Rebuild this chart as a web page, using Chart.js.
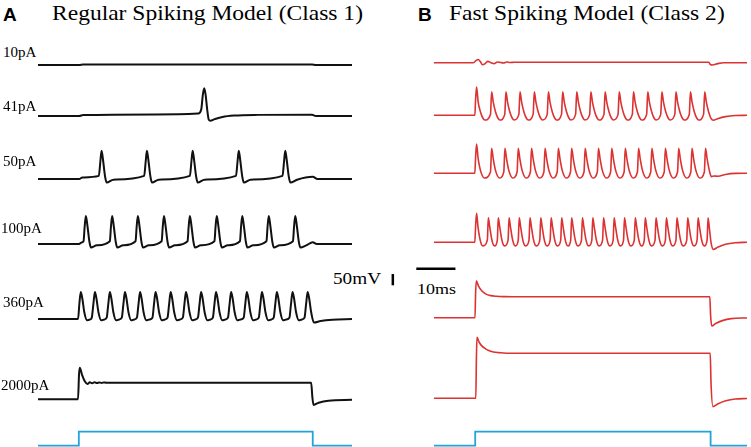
<!DOCTYPE html>
<html>
<head>
<meta charset="utf-8">
<script src="https://cdn.jsdelivr.net/npm/chart.js@4.4.1/dist/chart.umd.min.js"></script>
<style>
html, body { margin: 0; padding: 0; background: #fff; }
#fig { position: relative; width: 751px; height: 447px; overflow: hidden; }
#fig canvas { position: absolute; }
.t { position: absolute; white-space: nowrap; line-height: 1; color: #000; transform-origin: 0 0; }
.serif { font-family: 'Liberation Serif', 'Times New Roman', serif; }
.tag { font-family: 'Liberation Sans', Arial, sans-serif; font-weight: bold; font-size: 19px; }
</style>
</head>
<body>
<div id="fig">
  <div class="t tag" style="left:3px;top:4.6px;">A</div>
  <div class="t serif" style="left:52px;top:3px;font-size:21px;transform:scaleX(1.12);">Regular Spiking Model (Class 1)</div>
  <div class="t tag" style="left:418px;top:4.6px;">B</div>
  <div class="t serif" style="left:449px;top:3px;font-size:21px;transform:scaleX(1.12);">Fast Spiking Model (Class 2)</div>
  <div class="t serif" style="left:333px;top:271px;font-size:16px;transform:scaleX(1.2);">50mV</div>
  <div class="t serif" style="left:417px;top:281.5px;font-size:15px;transform:scaleX(1.2);">10ms</div>
  <canvas id="rs" width="314" height="407" style="left:38px;top:40px;"></canvas>
  <canvas id="fs" width="362" height="407" style="left:385px;top:40px;"></canvas>
</div>
<script>
// current steps, one per row
var rowLabels = ['10pA', '41pA', '50pA', '100pA', '360pA', '2000pA'];

// Regular spiking model (class 1): [time ms, membrane potential mV]
var rs10 = [[0,-70],[10.5,-70],[11.5,-68],[69.8,-68],[70.8,-70],[80,-70]];
var rs41 = [[0,-70],[10.5,-70],[11.5,-66],[30,-63],[40.8,-59],[41.6,-40],[42.0,25],[42.35,53],[42.7,25],[43.1,-40],
  [43.5,-86],[43.9,-91],[45.0,-84],[47,-74],[50,-68],[56,-65],[69.8,-64],[70.8,-70],[80,-70]];
var rs50 = [[0,-70],[10.5,-70],[11.3,-63],[15.5,-56],
  [15.9,10],[16.2,56],[16.6,10],[17.1,-60],[17.5,-86],[19.2,-73],[27.05,-56],
  [27.45,10],[27.75,56],[28.15,10],[28.65,-60],[29.05,-86],[30.75,-73],[38.7,-56],
  [39.1,10],[39.4,56],[39.8,10],[40.3,-60],[40.7,-86],[42.4,-73],[50.45,-56],
  [50.85,10],[51.15,56],[51.55,10],[52.05,-60],[52.45,-86],[54.15,-73],[62.3,-56],
  [62.7,10],[63.0,56],[63.4,10],[63.9,-60],[64.3,-86],[66,-73],[70,-60],[71.2,-70],[80,-70]];
var rs100 = [[0,-70],[10.5,-70],[11.0,-64],[11.6,-58],
  [11.9,10],[12.2,54],[12.6,10],[13.1,-60],[13.5,-86],[15,-76],[18.3,-58],
  [18.6,10],[18.9,54],[19.3,10],[19.8,-60],[20.2,-86],[21.7,-76],[24.85,-58],
  [25.15,10],[25.45,54],[25.85,10],[26.35,-60],[26.75,-86],[28.25,-76],[31.5,-58],
  [31.8,10],[32.1,54],[32.5,10],[33,-60],[33.4,-86],[34.9,-76],[38.1,-58],
  [38.4,10],[38.7,54],[39.1,10],[39.6,-60],[40,-86],[41.5,-76],[44.95,-58],
  [45.25,10],[45.55,54],[45.95,10],[46.45,-60],[46.85,-86],[48.35,-76],[51.45,-58],
  [51.75,10],[52.05,54],[52.45,10],[52.95,-60],[53.35,-86],[54.85,-76],[58.2,-58],
  [58.5,10],[58.8,54],[59.2,10],[59.7,-60],[60.1,-86],[61.6,-76],[64.95,-58],
  [65.25,10],[65.55,54],[65.95,10],[66.45,-60],[66.85,-86],[68.35,-76],[70,-62],[71,-70],[80,-70]];
var rs360 = [[0,-70],[10.2,-70],
  [10.55,0],[10.9,50],[11.3,20],[11.8,-40],[12.5,-76],[13.3,-72],
  [13.7,-64],[14.1,-5],[14.5,50],[14.9,20],[15.4,-40],[16.1,-76],[16.9,-72],
  [17.5,-64],[17.9,-5],[18.3,50],[18.7,20],[19.2,-40],[19.9,-76],[20.7,-72],
  [21.35,-64],[21.75,-5],[22.15,50],[22.55,20],[23.05,-40],[23.75,-76],[24.55,-72],
  [25.2,-64],[25.6,-5],[26.0,50],[26.4,20],[26.9,-40],[27.6,-76],[28.4,-72],
  [29.15,-64],[29.55,-5],[29.95,50],[30.35,20],[30.85,-40],[31.55,-76],[32.35,-72],
  [33.0,-64],[33.4,-5],[33.8,50],[34.2,20],[34.7,-40],[35.4,-76],[36.2,-72],
  [36.9,-64],[37.3,-5],[37.7,50],[38.1,20],[38.6,-40],[39.3,-76],[40.1,-72],
  [40.75,-64],[41.15,-5],[41.55,50],[41.95,20],[42.45,-40],[43.15,-76],[43.95,-72],
  [44.55,-64],[44.95,-5],[45.35,50],[45.75,20],[46.25,-40],[46.95,-76],[47.75,-72],
  [48.4,-64],[48.8,-5],[49.2,50],[49.6,20],[50.1,-40],[50.8,-76],[51.6,-72],
  [52.4,-64],[52.8,-5],[53.2,50],[53.6,20],[54.1,-40],[54.8,-76],[55.6,-72],
  [56.25,-64],[56.65,-5],[57.05,50],[57.45,20],[57.95,-40],[58.65,-76],[59.45,-72],
  [60.05,-64],[60.45,-5],[60.85,50],[61.25,20],[61.75,-40],[62.45,-76],[63.25,-72],
  [64.05,-64],[64.45,-5],[64.85,50],[65.25,20],[65.75,-40],[66.45,-76],[67.25,-72],
  [67.9,-64],[68.3,-5],[68.7,50],[69.1,20],[69.6,-40],[70.3,-86],[72,-79],[75,-73],[80,-70]];
var rs2000 = [[0,-70],[10.2,-70],[10.45,40],[10.65,70],[11.2,40],[12,8],[12.6,-2],[13.2,6],[13.8,1],[14.4,6],
  [15,2],[15.6,5],[16.2,3],[16.8,5],[17.4,3.5],[18,4],[69.6,4],[69.9,-60],[70.2,-95],[71.5,-85],[74,-76],[80,-72]];
var rsStim = [[0,0],[10.4,0],[10.4,1],[70,1],[70,0],[80,0]];

// Fast spiking model (class 2)
var fs10 = [[0,-70],[10.1,-70],[10.8,-60],[11.3,-56],[11.9,-66],[12.4,-79],[13.1,-74],[13.8,-64],[14.6,-70],[15.4,-74],
  [16.2,-67],[17.0,-69],[17.8,-71],[18.6,-67],[19.5,-69],[20.5,-68],[70.2,-68],[70.6,-77],[71.1,-80],[72.5,-74],[74,-70],[80,-70]];
var fs41 = [[0,-70],[10.45,-70],[10.65,0],[10.9,56],
  [11.3,-10],[11.9,-55],[12.5,-82],[13.0,-91],[14.45,-66],
  [14.75,34],[15.15,-10],[15.75,-55],[16.35,-82],[16.85,-91],[18.1,-66],
  [18.4,34],[18.8,-10],[19.4,-55],[20.0,-82],[20.5,-91],[21.7,-66],
  [22.0,34],[22.4,-10],[23.0,-55],[23.6,-82],[24.1,-91],[25.35,-66],
  [25.65,34],[26.05,-10],[26.65,-55],[27.25,-82],[27.75,-91],[28.95,-66],
  [29.25,34],[29.65,-10],[30.25,-55],[30.85,-82],[31.35,-91],[32.6,-66],
  [32.9,34],[33.3,-10],[33.9,-55],[34.5,-82],[35.0,-91],[36.2,-66],
  [36.5,34],[36.9,-10],[37.5,-55],[38.1,-82],[38.6,-91],[39.8,-66],
  [40.1,34],[40.5,-10],[41.1,-55],[41.7,-82],[42.2,-91],[43.45,-66],
  [43.75,34],[44.15,-10],[44.75,-55],[45.35,-82],[45.85,-91],[47.05,-66],
  [47.35,34],[47.75,-10],[48.35,-55],[48.95,-82],[49.45,-91],[50.7,-66],
  [51.0,34],[51.4,-10],[52.0,-55],[52.6,-82],[53.1,-91],[54.35,-66],
  [54.65,34],[55.05,-10],[55.65,-55],[56.25,-82],[56.75,-91],[57.95,-66],
  [58.25,34],[58.65,-10],[59.25,-55],[59.85,-82],[60.35,-91],[61.55,-66],
  [61.85,34],[62.25,-10],[62.85,-55],[63.45,-82],[63.95,-91],[65.25,-66],
  [65.55,34],[65.95,-10],[66.55,-55],[67.15,-82],[67.65,-91],[68.9,-66],
  [69.2,34],[69.6,-10],[70.2,-55],[70.8,-84],[71.4,-92],[72.5,-85],[74.5,-76],[77,-71],[80,-70]];
var fs50 = [[0,-70],[10.45,-70],[10.65,0],[10.9,60],
  [11.3,-5],[11.85,-55],[12.4,-82],[12.85,-91],[14.45,-64],
  [14.75,41],[15.15,-5],[15.7,-55],[16.25,-82],[16.7,-91],[17.85,-64],
  [18.15,41],[18.55,-5],[19.1,-55],[19.65,-82],[20.1,-91],[21.25,-64],
  [21.55,41],[21.95,-5],[22.5,-55],[23.05,-82],[23.5,-91],[24.65,-64],
  [24.95,41],[25.35,-5],[25.9,-55],[26.45,-82],[26.9,-91],[28.1,-64],
  [28.4,41],[28.8,-5],[29.35,-55],[29.9,-82],[30.35,-91],[31.5,-64],
  [31.8,41],[32.2,-5],[32.75,-55],[33.3,-82],[33.75,-91],[34.9,-64],
  [35.2,41],[35.6,-5],[36.15,-55],[36.7,-82],[37.15,-91],[38.35,-64],
  [38.65,41],[39.05,-5],[39.6,-55],[40.15,-82],[40.6,-91],[41.75,-64],
  [42.05,41],[42.45,-5],[43.0,-55],[43.55,-82],[44.0,-91],[45.15,-64],
  [45.45,41],[45.85,-5],[46.4,-55],[46.95,-82],[47.4,-91],[48.6,-64],
  [48.9,41],[49.3,-5],[49.85,-55],[50.4,-82],[50.85,-91],[52.0,-64],
  [52.3,41],[52.7,-5],[53.25,-55],[53.8,-82],[54.25,-91],[55.4,-64],
  [55.7,41],[56.1,-5],[56.65,-55],[57.2,-82],[57.65,-91],[58.85,-64],
  [59.15,41],[59.55,-5],[60.1,-55],[60.65,-82],[61.1,-91],[62.25,-64],
  [62.55,41],[62.95,-5],[63.5,-55],[64.05,-82],[64.5,-91],[65.65,-64],
  [65.95,41],[66.35,-5],[66.9,-55],[67.45,-82],[67.9,-91],[69.1,-64],
  [69.4,41],[69.8,-5],[70.35,-55],[70.9,-85],[71.6,-82],[72.6,-83],[74.5,-75],[77,-70.5],[80,-70]];
var fs100 = [[0,-70],[10.45,-70],[10.65,0],[10.9,59],
  [11.25,0],[11.7,-50],[12.15,-80],[12.55,-86],[13.65,-60],
  [13.9,39],[14.25,0],[14.7,-50],[15.15,-80],[15.55,-86],[16.2,-60],
  [16.45,39],[16.8,0],[17.25,-50],[17.7,-80],[18.1,-86],[18.95,-60],
  [19.2,39],[19.55,0],[20.0,-50],[20.45,-80],[20.85,-86],[21.55,-60],
  [21.8,39],[22.15,0],[22.6,-50],[23.05,-80],[23.45,-86],[24.3,-60],
  [24.55,39],[24.9,0],[25.35,-50],[25.8,-80],[26.2,-86],[27.05,-60],
  [27.3,39],[27.65,0],[28.1,-50],[28.55,-80],[28.95,-86],[29.7,-60],
  [29.95,39],[30.3,0],[30.75,-50],[31.2,-80],[31.6,-86],[32.4,-60],
  [32.65,39],[33.0,0],[33.45,-50],[33.9,-80],[34.3,-86],[34.95,-60],
  [35.2,39],[35.55,0],[36.0,-50],[36.45,-80],[36.85,-86],[37.7,-60],
  [37.95,39],[38.3,0],[38.75,-50],[39.2,-80],[39.6,-86],[40.35,-60],
  [40.6,39],[40.95,0],[41.4,-50],[41.85,-80],[42.25,-86],[43.1,-60],
  [43.35,39],[43.7,0],[44.15,-50],[44.6,-80],[45.0,-86],[45.8,-60],
  [46.05,39],[46.4,0],[46.85,-50],[47.3,-80],[47.7,-86],[48.45,-60],
  [48.7,39],[49.05,0],[49.5,-50],[49.95,-80],[50.35,-86],[51.2,-60],
  [51.45,39],[51.8,0],[52.25,-50],[52.7,-80],[53.1,-86],[53.75,-60],
  [54.0,39],[54.35,0],[54.8,-50],[55.25,-80],[55.65,-86],[56.5,-60],
  [56.75,39],[57.1,0],[57.55,-50],[58.0,-80],[58.4,-86],[59.15,-60],
  [59.4,39],[59.75,0],[60.2,-50],[60.65,-80],[61.05,-86],[61.85,-60],
  [62.1,39],[62.45,0],[62.9,-50],[63.35,-80],[63.75,-86],[64.6,-60],
  [64.85,39],[65.2,0],[65.65,-50],[66.1,-80],[66.5,-86],[67.25,-60],
  [67.5,39],[67.85,0],[68.3,-50],[68.75,-80],[69.15,-86],[69.8,-60],
  [70.05,39],[70.4,-10],[70.85,-75],[71.4,-102],[72.5,-92],[74.5,-79],[77,-72],[80,-70]];
var fs360 = [[0,-70],[10.5,-70],[10.65,40],[10.85,94],[11.4,70],[12.2,50],[13.2,36],[14.5,28],[16,25],[18,23.5],[20,23],
  [70.5,23],[70.7,-60],[71,-107],[72,-96],[73.7,-83],[76,-74],[80,-71]];
var fs2000 = [[0,-70],[10.7,-70],[10.85,100],[11.0,201],[11.6,178],[12.3,162],[13.2,150],[14,142],[15.2,136],[16.5,133],
  [18.5,130],[70.6,130],[70.8,0],[71.3,-107],[72.5,-95],[74.6,-81],[77,-73],[80,-71]];
var fsStim = [[0,0],[10.55,0],[10.55,1],[70.7,1],[70.7,0],[80,0]];

// scale bars: 50 mV and 10 ms (drawn on the 360pA row of panel B)
var barMv = [[-10.5,74],[-10.5,124]];
var barMs = [[-4.5,148],[5.5,148]];

// ---- layout ----
var REST = -70;            // mV at each row's baseline
var PX_PER_MV = 0.225;
var STIM_PX = 14;          // height of the current step
var bandEdges = [40, 90, 145, 210, 278, 352, 420, 447];
var rsBase = [65, 116, 179, 244, 319, 399.3, 445.7];
var fsBase = [62.7, 115.3, 173.3, 242.3, 317.7, 398.3, 445.7];
var labelBase = [57.5, 111.7, 166.7, 233.3, 307.7, 391];
var labelLeft = [3, 3, 3, 1, 3, 1];
var LABEL_PX = 15;

var BLACK = '#111111', RED = '#dc3232', BLUE = '#21a4dc';

function rowScales(base) {
    var scales = {};
    for (var k = 0; k < 7; k++) {
        var top = bandEdges[k], bot = bandEdges[k + 1];
        var unit = k < 6 ? PX_PER_MV : STIM_PX;
        var zero = k < 6 ? REST : 0;
        scales['r' + k] = {
            type: 'linear', display: false, position: 'right',
            stack: 'rows', stackWeight: bot - top,
            min: zero - (bot - base[k]) / unit,
            max: zero + (base[k] - top) / unit
        };
    }
    return scales;
}

function trace(points, row, color, width, smooth) {
    return {
        data: points.map(function (p) { return { x: p[0], y: p[1] }; }),
        yAxisID: 'r' + row,
        borderColor: color,
        borderWidth: width,
        pointRadius: 0,
        fill: false,
        clip: false,
        cubicInterpolationMode: smooth ? 'monotone' : 'default',
        tension: 0
    };
}

function panel(id, xMin, datasets, base) {
    var scales = rowScales(base);
    scales.x = { type: 'linear', display: false, min: xMin, max: 80 };
    return new Chart(document.getElementById(id), {
        type: 'line',
        data: { datasets: datasets },
        options: {
            responsive: false,
            animation: false,
            events: [],
            layout: { autoPadding: false, padding: 0 },
            plugins: { legend: { display: false }, tooltip: { enabled: false } },
            scales: scales
        }
    });
}

var rsData = [rs10, rs41, rs50, rs100, rs360, rs2000];
var fsData = [fs10, fs41, fs50, fs100, fs360, fs2000];

panel('rs', 0, rsData.map(function (d, i) { return trace(d, i, BLACK, 2, true); })
    .concat([trace(rsStim, 6, BLUE, 1.8, false)]), rsBase);

panel('fs', -12.5, fsData.map(function (d, i) { return trace(d, i, RED, 1.6, true); })
    .concat([trace(fsStim, 6, BLUE, 1.8, false),
             trace(barMv, 4, '#000', 2.5, false),
             trace(barMs, 4, '#000', 2.5, false)]), fsBase);

// row labels
var fig = document.getElementById('fig');
rowLabels.forEach(function (txt, i) {
    var el = document.createElement('div');
    el.className = 't serif';
    el.textContent = txt;
    el.style.fontSize = LABEL_PX + 'px';
    el.style.left = labelLeft[i] + 'px';
    el.style.top = (labelBase[i] - 0.8375 * LABEL_PX) + 'px';
    fig.appendChild(el);
});
</script>
</body>
</html>
